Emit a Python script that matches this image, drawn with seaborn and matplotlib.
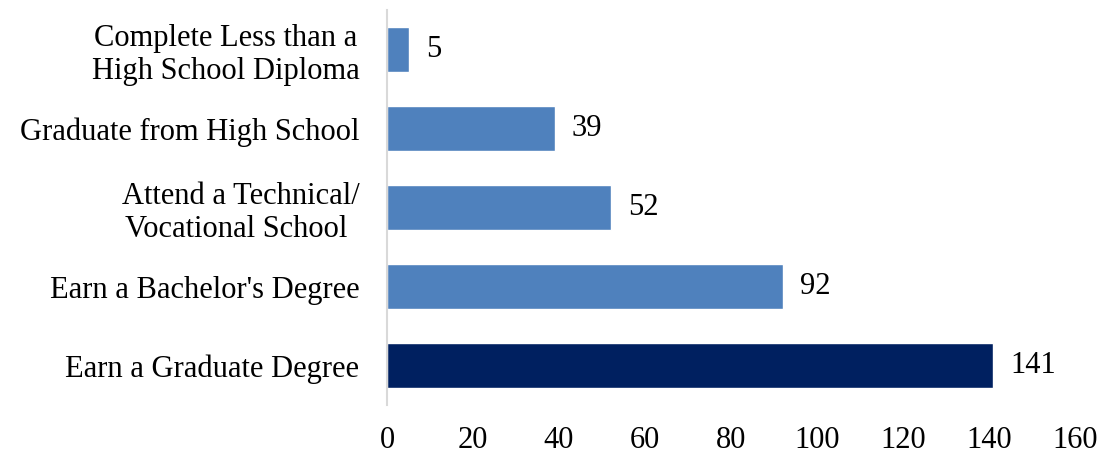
import matplotlib
matplotlib.use("Agg")
import matplotlib.pyplot as plt
import seaborn as sns
import pandas as pd

categories = [
    "Complete Less than a\nHigh School Diploma",
    "Graduate from High School",
    "Attend a Technical/\nVocational School ",
    "Earn a Bachelor's Degree",
    "Earn a Graduate Degree",
]
values = [5, 39, 52, 92, 141]
colors = ["#4F81BD", "#4F81BD", "#4F81BD", "#4F81BD", "#002060"]
xticks = [0, 20, 40, 60, 80, 100, 120, 140, 160]

sns.set_style("white")
plt.rcParams['font.family'] = ['Liberation Serif', 'DejaVu Serif']
plt.rcParams['text.color'] = 'black'
plt.rcParams['xtick.color'] = 'black'
plt.rcParams['ytick.color'] = 'black'

df = pd.DataFrame({"cat": categories, "val": values})

fig = plt.figure(figsize=(10.98, 4.59), dpi=100)
ax = fig.add_axes([0.3525, 0.1176, 0.6265, 0.8604])
sns.barplot(data=df, y="cat", x="val", hue="cat", palette=colors, legend=False,
            orient="h", width=0.58, ax=ax, saturation=1)

ax.set_xlim(0, 160)
ax.set_xticks(xticks)
ax.set_xticklabels([str(t) for t in xticks])
ax.set_xlabel("")
ax.set_ylabel("")
for s in ["top", "right", "bottom"]:
    ax.spines[s].set_visible(False)
ax.spines["left"].set_color("#D9D9D9")
ax.spines["left"].set_linewidth(1.5)
ax.tick_params(axis="x", length=0, pad=15, labelsize=22, labelcolor="black")
ax.tick_params(axis="y", length=0, pad=20, labelsize=22, labelcolor="black")
for lbl in ax.get_yticklabels():
    lbl.set_horizontalalignment("right")
    lbl.set_multialignment("center")
    lbl.set_linespacing(1.2)

for i, v in enumerate(values):
    ax.text(v + 4, i, str(v), va="center", ha="left", fontsize=22, color="black")

fig.savefig("out.png", dpi=100)
